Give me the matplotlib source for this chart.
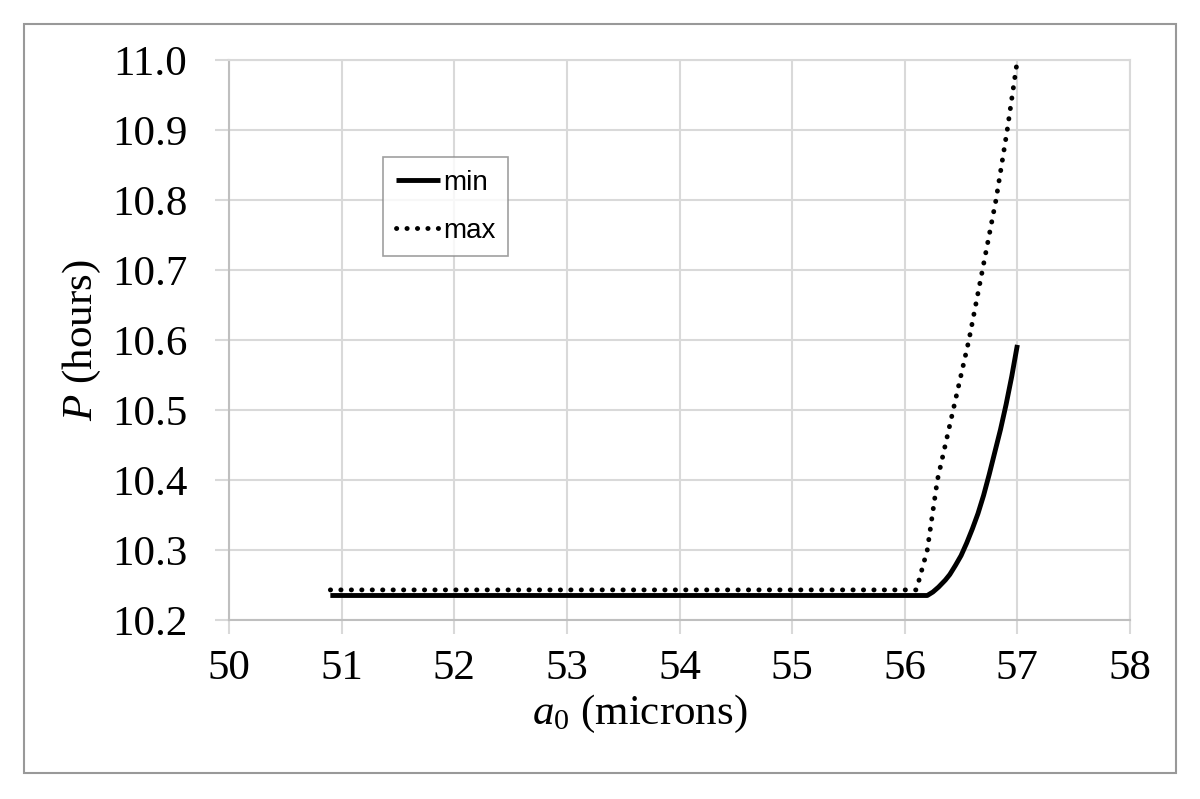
import matplotlib
matplotlib.use("Agg")
import matplotlib.pyplot as plt
from matplotlib.patches import Rectangle

# values
min_x = [50.9, 56.2, 56.25, 56.3, 56.36, 56.4, 56.45, 56.5, 56.55, 56.6, 56.65,
         56.7, 56.75, 56.8, 56.85, 56.9, 56.95, 57.0]
min_p = [10.235, 10.235, 10.240, 10.247, 10.257, 10.265, 10.278, 10.292, 10.310, 10.330, 10.352,
         10.378, 10.408, 10.440, 10.472, 10.508, 10.548, 10.593]

max_x = [50.9, 56.1, 56.12, 56.2, 56.29, 56.43, 56.57, 56.69, 56.81, 56.91, 57.0]
max_p = [10.243, 10.243, 10.253, 10.3, 10.4, 10.5, 10.6, 10.7, 10.8, 10.9, 11.0]

x_ticks = [50, 51, 52, 53, 54, 55, 56, 57, 58]
y_ticks = [10.2, 10.3, 10.4, 10.5, 10.6, 10.7, 10.8, 10.9, 11.0]

plt.rcParams['mathtext.fontset'] = 'custom'
plt.rcParams['mathtext.rm'] = 'Liberation Serif'
plt.rcParams['mathtext.it'] = 'Liberation Serif:italic'

grid_col = '#d9d9d9'

fig = plt.figure(figsize=(12, 7.99), dpi=100)
ax = fig.add_axes([229 / 1200, 1 - 620 / 799, 901 / 1200, 560 / 799])

ax.plot(min_x, min_p, color='black', lw=3.5, solid_capstyle='butt',
        solid_joinstyle='round', label='min', zorder=3)
ax.plot(max_x, max_p, color='black', lw=3.5, linestyle=(0, (0.05, 2.1)),
        dash_capstyle='round', label='max', zorder=4)

ax.set_xlim(50, 58)
ax.set_ylim(10.2, 11.0)
ax.set_xticks(x_ticks)
ax.set_yticks(y_ticks)
ax.set_xticklabels([str(v) for v in x_ticks])
ax.set_yticklabels([f"{v:.1f}" for v in y_ticks])
ax.grid(True, color=grid_col, lw=1.5)
ax.set_axisbelow(True)
for s in ax.spines.values():
    s.set_color(grid_col)
    s.set_linewidth(1.5)
ax.spines['left'].set_color('#bfbfbf')
ax.spines['bottom'].set_color('#bfbfbf')

for lab in ax.get_xticklabels() + ax.get_yticklabels():
    lab.set_fontfamily('Liberation Serif')
    lab.set_fontsize(31)
ax.tick_params(axis='both', length=10, width=1.5, color=grid_col, direction='out')
ax.tick_params(axis='y', pad=20)
ax.tick_params(axis='x', pad=11)

fig.text(82 / 1200, 1 - 340 / 799, r'$P$ (hours)', rotation=90, ha='center', va='center',
         fontsize=31, family='Liberation Serif')
fig.text(640 / 1200, 1 - 714 / 799, r'$a_{\mathrm{0}}$ (microns)', ha='center', va='center',
         fontsize=31, family='Liberation Serif')

leg = ax.legend(loc='upper left', bbox_to_anchor=((383 - 229) / 901, (620 - 157) / 560),
                prop={'family': 'Liberation Sans', 'size': 20}, frameon=True, fancybox=False,
                handlelength=1.6, handletextpad=0.12, borderpad=0.45, labelspacing=0.8,
                borderaxespad=0)
leg.get_frame().set_edgecolor('#888888')
leg.get_frame().set_linewidth(1.2)

fig.patches.append(Rectangle((24 / 1200, 1 - 773 / 799), 1152 / 1200, 749 / 799,
                             transform=fig.transFigure, fill=False, edgecolor='#999999', lw=1.5))

fig.savefig('out.png', dpi=100)
